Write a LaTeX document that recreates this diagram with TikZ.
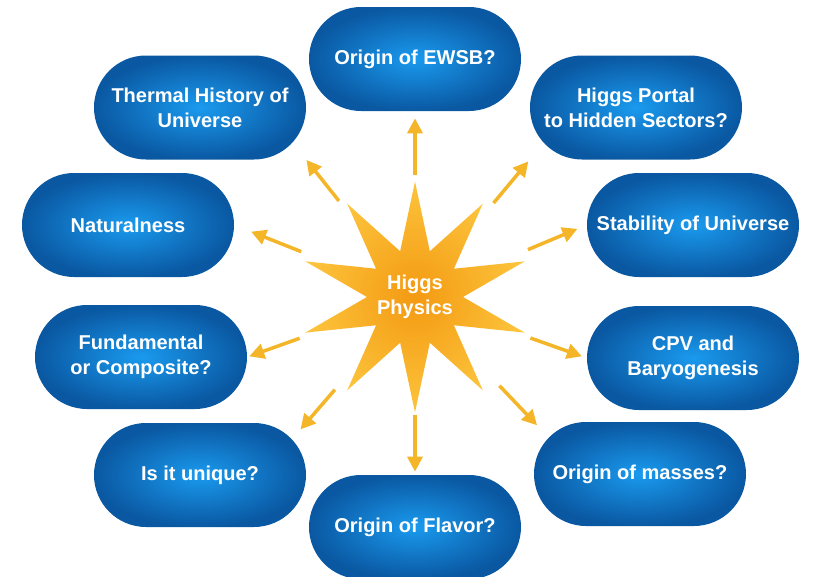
\documentclass[tikz,border=0pt]{standalone}
\usepackage{fontspec}
\setmainfont{Liberation Sans}
\usepackage{xcolor}
\definecolor{pillin}{HTML}{1A9AEE}
\definecolor{pillout}{HTML}{0A58A2}
\definecolor{starin}{HTML}{F39A12}
\definecolor{starout}{HTML}{FCC43C}
\definecolor{gold}{HTML}{F4B628}
\usepackage{tikz}
\usetikzlibrary{shapes.geometric,arrows.meta}

\begin{document}
\begin{tikzpicture}[
    pill/.style={rectangle, rounded corners=1.04cm, minimum width=4.24cm, minimum height=2.08cm,
      inner color=pillin, outer color=pillout, text=white, align=center,
      font=\fontsize{11.4}{14.2}\selectfont\bfseries},
    burst/.style={star, star points=10, star point ratio=2.4, inner sep=-2.2pt,
      inner color=starin, outer color=starout, text=white, align=center,
      font=\fontsize{11.4}{14.2}\selectfont\bfseries},
    arrow/.style={-{Triangle[length=0.3cm, width=0.3cm]}, line width=2pt, gold, shorten <=2.45cm}
]
  \useasboundingbox (-8.3,-5.6) rectangle (8.0,5.94);

  % Topics around the centre
  \node[pill] (ewsb)   at (0, 4.76)      {Origin of EWSB?};
  \node[pill] (therm)  at (-4.30, 3.79)  {Thermal History of\\Universe};
  \node[pill] (portal) at (4.42, 3.79)   {Higgs Portal\\to Hidden Sectors?};
  \node[pill] (natur)  at (-5.74, 1.44)  {Naturalness};
  \node[pill] (stab)   at (5.56, 1.44)   {Stability of Universe};
  \node[pill] (fund)   at (-5.48, -1.20) {Fundamental\\or Composite?};
  \node[pill] (cpv)    at (5.56, -1.22)  {CPV and\\Baryogenesis};
  \node[pill] (uniq)   at (-4.30, -3.56) {Is it unique?};
  \node[pill] (mass)   at (4.50, -3.54)  {Origin of masses?};
  \node[pill] (flav)   at (0, -4.60)     {Origin of Flavor?};

  % Centre
  \node[burst] (hp) at (0, 0) {Higgs\\Physics};

  % Arrows out of the star
  \draw[arrow, shorten >=0.14cm] (hp.center) -- (ewsb.south);
  \draw[arrow, shorten >=0cm] (hp.center) -- (therm.south east);
  \draw[arrow, shorten >=0.04cm] (hp.center) -- (portal.south west);
  \draw[arrow, shorten >=0.36cm] (hp.center) -- (natur.east);
  \draw[arrow, shorten >=0.2cm] (hp.center) -- (stab.west);
  \draw[arrow, shorten >=0.04cm] (hp.center) -- (fund.east);
  \draw[arrow, shorten >=0.1cm] (hp.center) -- (cpv.west);
  \draw[arrow, shorten >=-0.18cm] (hp.center) -- (uniq.north east);
  \draw[arrow, shorten >=-0.1cm] (hp.center) -- (mass.north west);
  \draw[arrow, shorten >=0.06cm, shorten <=2.35cm] (hp.center) -- (flav.north);
\end{tikzpicture}
\end{document}
